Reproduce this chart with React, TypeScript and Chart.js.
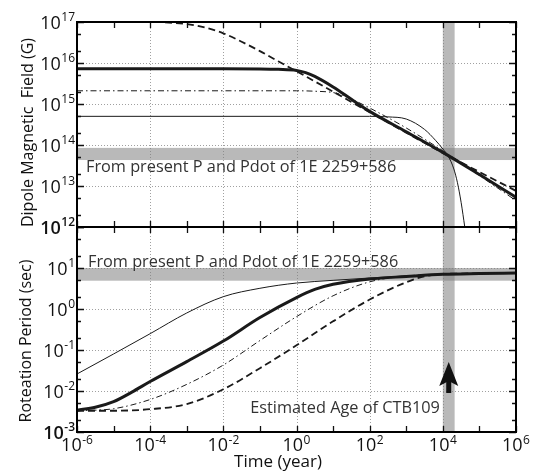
import React, { useEffect, useRef } from 'react';
import { Chart, registerables } from 'chart.js';

Chart.register(...registerables);

// ---------- data (time in years) ----------
const X_MIN = 1e-6;
const X_MAX = 1e6;
const B_MIN = 1e12;
const B_MAX = 1e17;
const P_MIN = 1e-3;
const P_MAX = 1e2;

// Dipole magnetic field (G)
const bDashedT = [1e-6, 1e-4, 3.16e-4, 1e-3, 3.16e-3, 1e-2, 3.16e-2, 1e-1, 3.16e-1, 1, 10, 100, 1e3, 1e4, 1e5, 1e6];
const bDashedV = [1e17, 1e17, 9.7e16, 8.9e16, 7.3e16, 5.3e16, 3.3e16, 1.95e16, 1.1e16, 6.3e15, 2.0e15, 6.3e14, 2.0e14, 6.4e13, 2.2e13, 7.6e12];

const bThickT = [1e-6, 1e-2, 1e-1, 3.16e-1, 1, 1.78, 3.16, 10, 31.6, 100, 1e3, 1e4, 1e5, 1e6];
const bThickV = [7.2e15, 7.2e15, 7.15e15, 7.0e15, 6.6e15, 5.8e15, 4.7e15, 2.6e15, 1.3e15, 6.6e14, 2.1e14, 6.6e13, 1.9e13, 5.3e12];

const bDashDotT = [1e-6, 1, 3.16, 10, 20, 40, 100, 1e3, 1e4, 1e5, 1e6];
const bDashDotV = [2.1e15, 2.1e15, 2.05e15, 1.9e15, 1.6e15, 1.2e15, 8.0e14, 2.6e14, 7.2e13, 1.8e13, 4.4e12];

const bThinT = [1e-6, 100, 316, 1000, 3162, 6310, 1e4, 1.41e4, 2e4, 2.51e4, 3.16e4, 3.98e4];
const bThinV = [5e14, 5e14, 4.85e14, 4.3e14, 2.4e14, 1.3e14, 8e13, 5.3e13, 2.6e13, 1.2e13, 4e12, 1e12];

// Rotation period (sec)
const pThinT = [1e-6, 1e-5, 1e-4, 1e-3, 1e-2, 1e-1, 1, 10, 100, 1e3, 1e4, 1e5, 1e6];
const pThinV = [0.026, 0.08, 0.25, 0.8, 2.0, 3.2, 4.3, 5.0, 5.7, 6.4, 7.0, 7.3, 7.5];

const pThickT = [1e-6, 3.16e-6, 1e-5, 3.16e-5, 1e-4, 1e-3, 1e-2, 1e-1, 1, 3.16, 10, 100, 1e3, 1e4, 1e5, 1e6];
const pThickV = [0.0034, 0.004, 0.0055, 0.0094, 0.017, 0.052, 0.165, 0.62, 1.9, 3.0, 4.0, 5.4, 6.2, 7.0, 7.3, 7.5];

const pDashDotT = [1e-6, 1e-5, 1e-4, 1e-3, 1e-2, 1e-1, 1, 10, 100, 1e3, 1e4, 1e5, 1e6];
const pDashDotV = [0.0033, 0.0037, 0.0062, 0.0145, 0.043, 0.17, 0.65, 2.1, 4.6, 6.4, 7.0, 7.3, 7.5];

const pDashedT = [1e-6, 1e-5, 1e-4, 1e-3, 1e-2, 1e-1, 1, 10, 100, 1e3, 3.16e3, 1e4, 1e5, 1e6];
const pDashedV = [0.0033, 0.0033, 0.0036, 0.0048, 0.011, 0.036, 0.13, 0.5, 1.7, 4.5, 6.3, 7.1, 7.4, 7.6];

// ticks / gridlines (powers of ten)
const xTickExps = [-6, -5, -4, -3, -2, -1, 0, 1, 2, 3, 4, 5, 6];
const xLabelExps = [-6, -4, -2, 0, 2, 4, 6];
const xGridExps = [-4, -2, 0, 2, 4];
const bTickExps = [12, 13, 14, 15, 16, 17];
const pTickExps = [-3, -2, -1, 0, 1, 2];
const pLabelExps = [-3, -2, -1, 0, 1];

// shaded bands
const ageBand = [1e4, 2.1e4];
const bBand = [4.3e13, 8.5e13];
const pBand = [4.9, 10];

const bandText = 'From present P and Pdot of 1E 2259+586';
const ageText = 'Estimated Age of CTB109';
const bTitle = 'Dipole Magnetic  Field (G)';
const pTitle = 'Roteation Period (sec)';
const xTitle = 'Time (year)';

const FONT = '"Open Sans", "Noto Sans", sans-serif';
const INK = '#1a1a1a';

function pts(t: number[], v: number[]) {
  return t.map((x, i) => ({ x, y: v[i] }));
}

function drawPow(ctx: CanvasRenderingContext2D, exp: number, x: number, y: number, mode: 'right' | 'center', bold = false) {
  const w = bold ? '600 ' : '';
  const baseFont = `${w}18px ${FONT}`;
  const expFont = `${w}12px ${FONT}`;
  const es = String(exp);
  ctx.font = baseFont;
  const w10 = ctx.measureText('10').width;
  ctx.font = expFont;
  const we = ctx.measureText(es).width;
  const total = w10 + we + 0.5;
  const x0 = mode === 'right' ? x - total : x - total / 2;
  ctx.textAlign = 'left';
  ctx.textBaseline = 'alphabetic';
  ctx.fillStyle = '#111';
  ctx.font = baseFont;
  ctx.fillText('10', x0, y);
  ctx.font = expFont;
  ctx.fillText(es, x0 + w10 + 0.5, y - 7.5);
}

const decoPlugin = {
  id: 'deco',
  beforeDatasetsDraw(chart: any) {
    const ctx: CanvasRenderingContext2D = chart.ctx;
    const xs = chart.scales.x;
    const yB = chart.scales.yB;
    const yP = chart.scales.yP;
    const L = chart.chartArea.left;
    const R = chart.chartArea.right;
    ctx.save();
    ctx.strokeStyle = '#a0a0a0';
    ctx.lineWidth = 1;
    ctx.setLineDash([1, 2]);
    const panels = [
      { s: yB, exps: bTickExps },
      { s: yP, exps: pTickExps },
    ];
    for (const p of panels) {
      const top = p.s.top;
      const bot = p.s.bottom;
      for (const e of xGridExps) {
        const px = Math.round(xs.getPixelForValue(Math.pow(10, e))) + 0.5;
        ctx.beginPath();
        ctx.moveTo(px, top);
        ctx.lineTo(px, bot);
        ctx.stroke();
      }
      for (const e of p.exps) {
        const py = Math.round(p.s.getPixelForValue(Math.pow(10, e))) + 0.5;
        if (py <= top + 2 || py >= bot - 2) continue;
        ctx.beginPath();
        ctx.moveTo(L, py);
        ctx.lineTo(R, py);
        ctx.stroke();
      }
    }
    ctx.setLineDash([]);
    // bands
    ctx.fillStyle = 'rgba(128,128,128,0.55)';
    const bx0 = xs.getPixelForValue(ageBand[0]);
    const bx1 = xs.getPixelForValue(ageBand[1]);
    ctx.fillRect(bx0, yB.top, bx1 - bx0, yP.bottom - yB.top);
    const by0 = yB.getPixelForValue(bBand[1]);
    const by1 = yB.getPixelForValue(bBand[0]);
    ctx.fillRect(L, by0, R - L, by1 - by0);
    const py0 = yP.getPixelForValue(pBand[1]);
    const py1 = yP.getPixelForValue(pBand[0]);
    ctx.fillRect(L, py0, R - L, py1 - py0);
    ctx.restore();
  },
  afterDatasetsDraw(chart: any) {
    const ctx: CanvasRenderingContext2D = chart.ctx;
    const xs = chart.scales.x;
    const yB = chart.scales.yB;
    const yP = chart.scales.yP;
    const L = chart.chartArea.left;
    const R = chart.chartArea.right;
    ctx.save();
    // ticks
    ctx.strokeStyle = '#111';
    ctx.lineWidth = 1.3;
    const panels = [
      { s: yB, exps: bTickExps },
      { s: yP, exps: pTickExps },
    ];
    for (const p of panels) {
      const top = p.s.top;
      const bot = p.s.bottom;
      for (const e of xTickExps) {
        const px = Math.round(xs.getPixelForValue(Math.pow(10, e))) + 0.5;
        ctx.beginPath();
        ctx.moveTo(px, top);
        ctx.lineTo(px, top + 6);
        ctx.moveTo(px, bot);
        ctx.lineTo(px, bot - 6);
        ctx.stroke();
      }
      for (const e of p.exps) {
        const py = Math.round(p.s.getPixelForValue(Math.pow(10, e))) + 0.5;
        ctx.beginPath();
        ctx.moveTo(L, py);
        ctx.lineTo(L + 7, py);
        ctx.moveTo(R, py);
        ctx.lineTo(R - 7, py);
        ctx.stroke();
        for (const m of [2, 5]) {
          const v = m * Math.pow(10, e);
          const pm = Math.round(p.s.getPixelForValue(v)) + 0.5;
          if (pm <= top || pm >= bot) continue;
          ctx.beginPath();
          ctx.moveTo(L, pm);
          ctx.lineTo(L + 4, pm);
          ctx.moveTo(R, pm);
          ctx.lineTo(R - 4, pm);
          ctx.stroke();
        }
      }
    }
    // frames
    ctx.lineWidth = 2;
    ctx.strokeStyle = '#000';
    ctx.strokeRect(L, yB.top, R - L, yP.bottom - yB.top);
    ctx.beginPath();
    ctx.moveTo(L, yB.bottom);
    ctx.lineTo(R, yB.bottom);
    ctx.stroke();

    // y labels
    for (const e of bTickExps) {
      const py = yB.getPixelForValue(Math.pow(10, e));
      drawPow(ctx, e, 75, py + 6.5, 'right', e === 12);
    }
    for (const e of pLabelExps) {
      const py = yP.getPixelForValue(Math.pow(10, e));
      drawPow(ctx, e, 75, py + 6.5, 'right', e === -3);
    }
    // x labels
    for (const e of xLabelExps) {
      const px = xs.getPixelForValue(Math.pow(10, e));
      drawPow(ctx, e, px, yP.bottom + 19, 'center');
    }

    // titles
    ctx.fillStyle = '#111';
    ctx.font = `17px ${FONT}`;
    ctx.textAlign = 'center';
    ctx.textBaseline = 'alphabetic';
    ctx.fillText(xTitle, 278, 467);
    ctx.font = `16px ${FONT}`;
    ctx.save();
    ctx.translate(33, (yB.top + yB.bottom) / 2 + 8);
    ctx.rotate(-Math.PI / 2);
    ctx.fillText(bTitle, 0, 0);
    ctx.restore();
    ctx.save();
    ctx.translate(31, 341);
    ctx.rotate(-Math.PI / 2);
    ctx.fillText(pTitle, 0, 0);
    ctx.restore();

    // annotations
    ctx.fillStyle = '#333';
    ctx.font = `16.3px ${FONT}`;
    ctx.textAlign = 'left';
    ctx.fillText(bandText, L + 9, yB.getPixelForValue(bBand[0]) + 12);
    ctx.fillText(bandText, L + 11, yP.getPixelForValue(pBand[1]) - 1);
    ctx.textAlign = 'right';
    ctx.fillText(ageText, xs.getPixelForValue(ageBand[0]) - 3, yP.bottom - 19);

    // arrow
    const ax = (xs.getPixelForValue(ageBand[0]) + xs.getPixelForValue(ageBand[1])) / 2;
    const ab = yP.bottom - 39;
    ctx.fillStyle = '#111';
    ctx.fillRect(ax - 2.5, ab - 14, 5, 14);
    ctx.beginPath();
    ctx.moveTo(ax, ab - 31);
    ctx.lineTo(ax + 9.5, ab - 7);
    ctx.lineTo(ax, ab - 12);
    ctx.lineTo(ax - 9.5, ab - 7);
    ctx.closePath();
    ctx.fill();
    ctx.restore();
  },
};

export default function App() {
  const ref = useRef<HTMLCanvasElement | null>(null);
  useEffect(() => {
    document.body.style.margin = '0';
    const canvas = ref.current;
    if (!canvas) return;
    const line = (data: any, yAxisID: string, width: number, dash: number[]) => ({
      data,
      yAxisID,
      borderColor: INK,
      borderWidth: width,
      borderDash: dash,
      pointRadius: 0,
      fill: false,
      cubicInterpolationMode: 'monotone' as const,
    });
    const chart = new Chart(canvas, {
      type: 'line',
      data: {
        datasets: [
          line(pts(bThinT, bThinV), 'yB', 1, []),
          line(pts(bDashDotT, bDashDotV), 'yB', 1, [6, 3, 1.5, 3]),
          line(pts(bDashedT, bDashedV), 'yB', 1.8, [7, 4]),
          line(pts(bThickT, bThickV), 'yB', 3, []),
          line(pts(pThinT, pThinV), 'yP', 1, []),
          line(pts(pDashDotT, pDashDotV), 'yP', 1, [6, 3, 1.5, 3]),
          line(pts(pDashedT, pDashedV), 'yP', 1.8, [7, 4]),
          line(pts(pThickT, pThickV), 'yP', 3, []),
        ],
      },
      options: {
        animation: false,
        responsive: false,
        devicePixelRatio: 1,
        layout: { padding: { top: 22, right: 17, left: 0, bottom: 0 } },
        plugins: { legend: { display: false }, tooltip: { enabled: false } },
        scales: {
          x: {
            type: 'logarithmic',
            min: X_MIN,
            max: X_MAX,
            position: 'bottom',
            grid: { display: false },
            border: { display: false },
            ticks: { display: false },
            afterFit: (s: any) => { s.height = 43; },
          },
          yB: {
            type: 'logarithmic',
            min: B_MIN,
            max: B_MAX,
            position: 'left',
            stack: 'v',
            stackWeight: 1,
            weight: 2,
            grid: { display: false },
            border: { display: false },
            ticks: { display: false },
            afterFit: (s: any) => { s.width = 77; },
          },
          yP: {
            type: 'logarithmic',
            min: P_MIN,
            max: P_MAX,
            position: 'left',
            stack: 'v',
            stackWeight: 1,
            weight: 1,
            grid: { display: false },
            border: { display: false },
            ticks: { display: false },
            afterFit: (s: any) => { s.width = 77; },
          },
        } as any,
      },
      plugins: [decoPlugin as any],
    });
    return () => chart.destroy();
  }, []);
  return (
    <div style={{ position: 'absolute', left: 0, top: 0, width: 533, height: 475, background: '#fff' }}>
      <canvas ref={ref} width={533} height={475} style={{ display: 'block', width: 533, height: 475 }} />
    </div>
  );
}
